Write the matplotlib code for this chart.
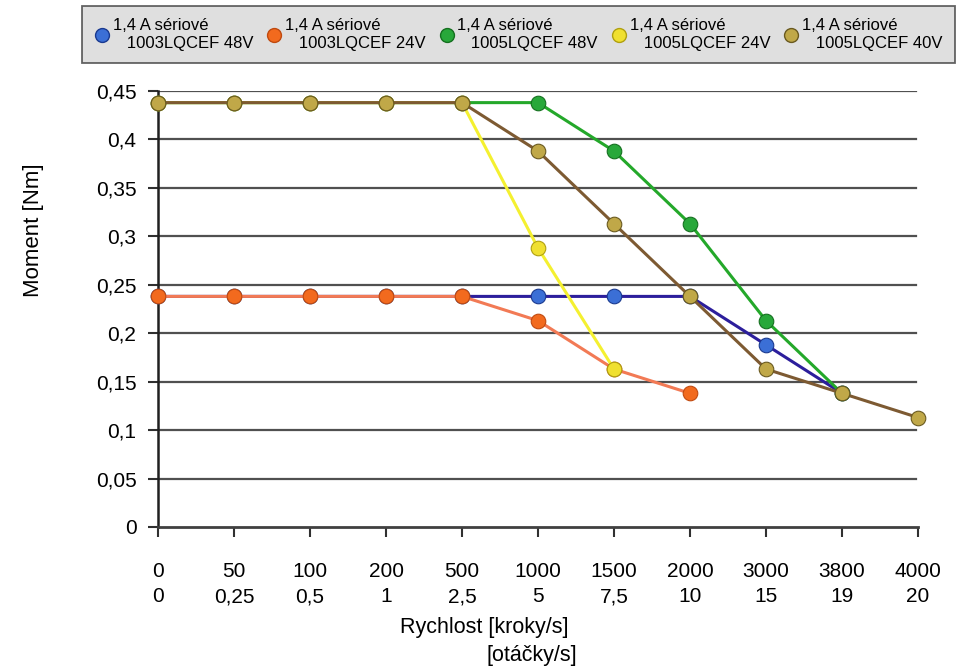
import matplotlib
matplotlib.use("Agg")
import matplotlib.pyplot as plt
from matplotlib.lines import Line2D

plt.rcParams['font.family'] = ['Liberation Sans', 'DejaVu Sans']

steps = ["0", "50", "100", "200", "500", "1000", "1500", "2000", "3000", "3800", "4000"]
revs = ["0", "0,25", "0,5", "1", "2,5", "5", "7,5", "10", "15", "19", "20"]
y_ticks = [0, 0.05, 0.1, 0.15, 0.2, 0.25, 0.3, 0.35, 0.4, 0.45]
y_tick_labels = ["0", "0,05", "0,1", "0,15", "0,2", "0,25", "0,3", "0,35", "0,4", "0,45"]

# values per series (index into categories, torque)
blue_idx = [0, 1, 2, 3, 4, 5, 6, 7, 8, 9]
blue_val = [0.238, 0.238, 0.238, 0.238, 0.238, 0.238, 0.238, 0.238, 0.188, 0.138]
orange_idx = [0, 1, 2, 3, 4, 5, 6, 7]
orange_val = [0.238, 0.238, 0.238, 0.238, 0.238, 0.213, 0.163, 0.138]
green_idx = [0, 1, 2, 3, 4, 5, 6, 7, 8, 9]
green_val = [0.438, 0.438, 0.438, 0.438, 0.438, 0.438, 0.388, 0.313, 0.213, 0.138]
yellow_idx = [0, 1, 2, 3, 4, 5, 6]
yellow_val = [0.438, 0.438, 0.438, 0.438, 0.438, 0.288, 0.163]
brown_idx = [0, 1, 2, 3, 4, 5, 6, 7, 8, 9, 10]
brown_val = [0.438, 0.438, 0.438, 0.438, 0.438, 0.388, 0.313, 0.238, 0.163, 0.138, 0.113]

labels = ["1,4 A sériové\n   1003LQCEF 48V", "1,4 A sériové\n   1003LQCEF 24V",
          "1,4 A sériové\n   1005LQCEF 48V", "1,4 A sériové\n   1005LQCEF 24V",
          "1,4 A sériové\n   1005LQCEF 40V"]

series = [
    (blue_idx, blue_val, "#2c1e9c", "#3b6fd6", "#1a3a90"),
    (orange_idx, orange_val, "#f27a55", "#f26a1e", "#c04a10"),
    (green_idx, green_val, "#24a82a", "#28a83a", "#157020"),
    (yellow_idx, yellow_val, "#f4f030", "#f0e030", "#b0a010"),
    (brown_idx, brown_val, "#7d5a32", "#c0a848", "#6a5a20"),
]

fig = plt.figure(figsize=(9.65, 6.7), dpi=100)
ax = fig.add_axes([158/965, 1-527/670, (918-158)/965, (527-91)/670])

for yv in y_ticks[1:]:
    ax.axhline(yv, xmax=0.997, color="#505050", lw=1.6, zorder=1)

handles = []
for (idx, val, lc, mc, ec), lab in zip(series, labels):
    ax.plot(idx, val, color=lc, lw=2.2, marker="o", markersize=10.5,
            markerfacecolor=mc, markeredgecolor=ec, markeredgewidth=0.8,
            clip_on=False, zorder=3)
    handles.append(Line2D([], [], linestyle="none", marker="o", markersize=10,
                          markerfacecolor=mc, markeredgecolor=ec, label=lab))

ax.set_xlim(0, 10)
ax.set_ylim(0, 0.45)
ax.set_xticks(range(len(steps)))
ax.set_xticklabels([f"{a}\n{b}" for a, b in zip(steps, revs)], fontsize=15, linespacing=1.4)
ax.set_yticks(y_ticks)
ax.set_yticklabels(y_tick_labels, fontsize=15)
ax.tick_params(axis="both", direction="out", length=7.5, width=1.5, color="#303030", pad=8)
ax.tick_params(axis="x", pad=18)
for s in ["top", "right"]:
    ax.spines[s].set_visible(False)
ax.spines["left"].set_color("#202020")
ax.spines["left"].set_linewidth(1.8)
ax.spines["bottom"].set_color("#404040")
ax.spines["bottom"].set_linewidth(2)

fig.text(484/965, 1-627/670, "Rychlost [kroky/s]", fontsize=15.5, ha="center", va="center")
fig.text(532/965, 1-655/670, "[otáčky/s]", fontsize=15.5, ha="center", va="center")
fig.text(34/965, 1-230/670, "Moment [Nm]", fontsize=16, ha="center", va="center", rotation=90)

leg = fig.legend(handles=handles, loc="upper left",
                 bbox_to_anchor=(82/965, 1-63/670, (955-82)/965, 57/670),
                 mode="expand", ncol=5, fontsize=12, frameon=True, fancybox=False,
                 handletextpad=0.2, borderaxespad=0, borderpad=0.75, columnspacing=0.3,
                 handlelength=0.9, labelspacing=0.1)
for t in leg.get_texts():
    t.set_linespacing(1.2)
leg.get_frame().set_facecolor("#d8d8d8")
leg.get_frame().set_edgecolor("#404040")
leg.get_frame().set_linewidth(1.3)

fig.savefig("out.png", dpi=100)
